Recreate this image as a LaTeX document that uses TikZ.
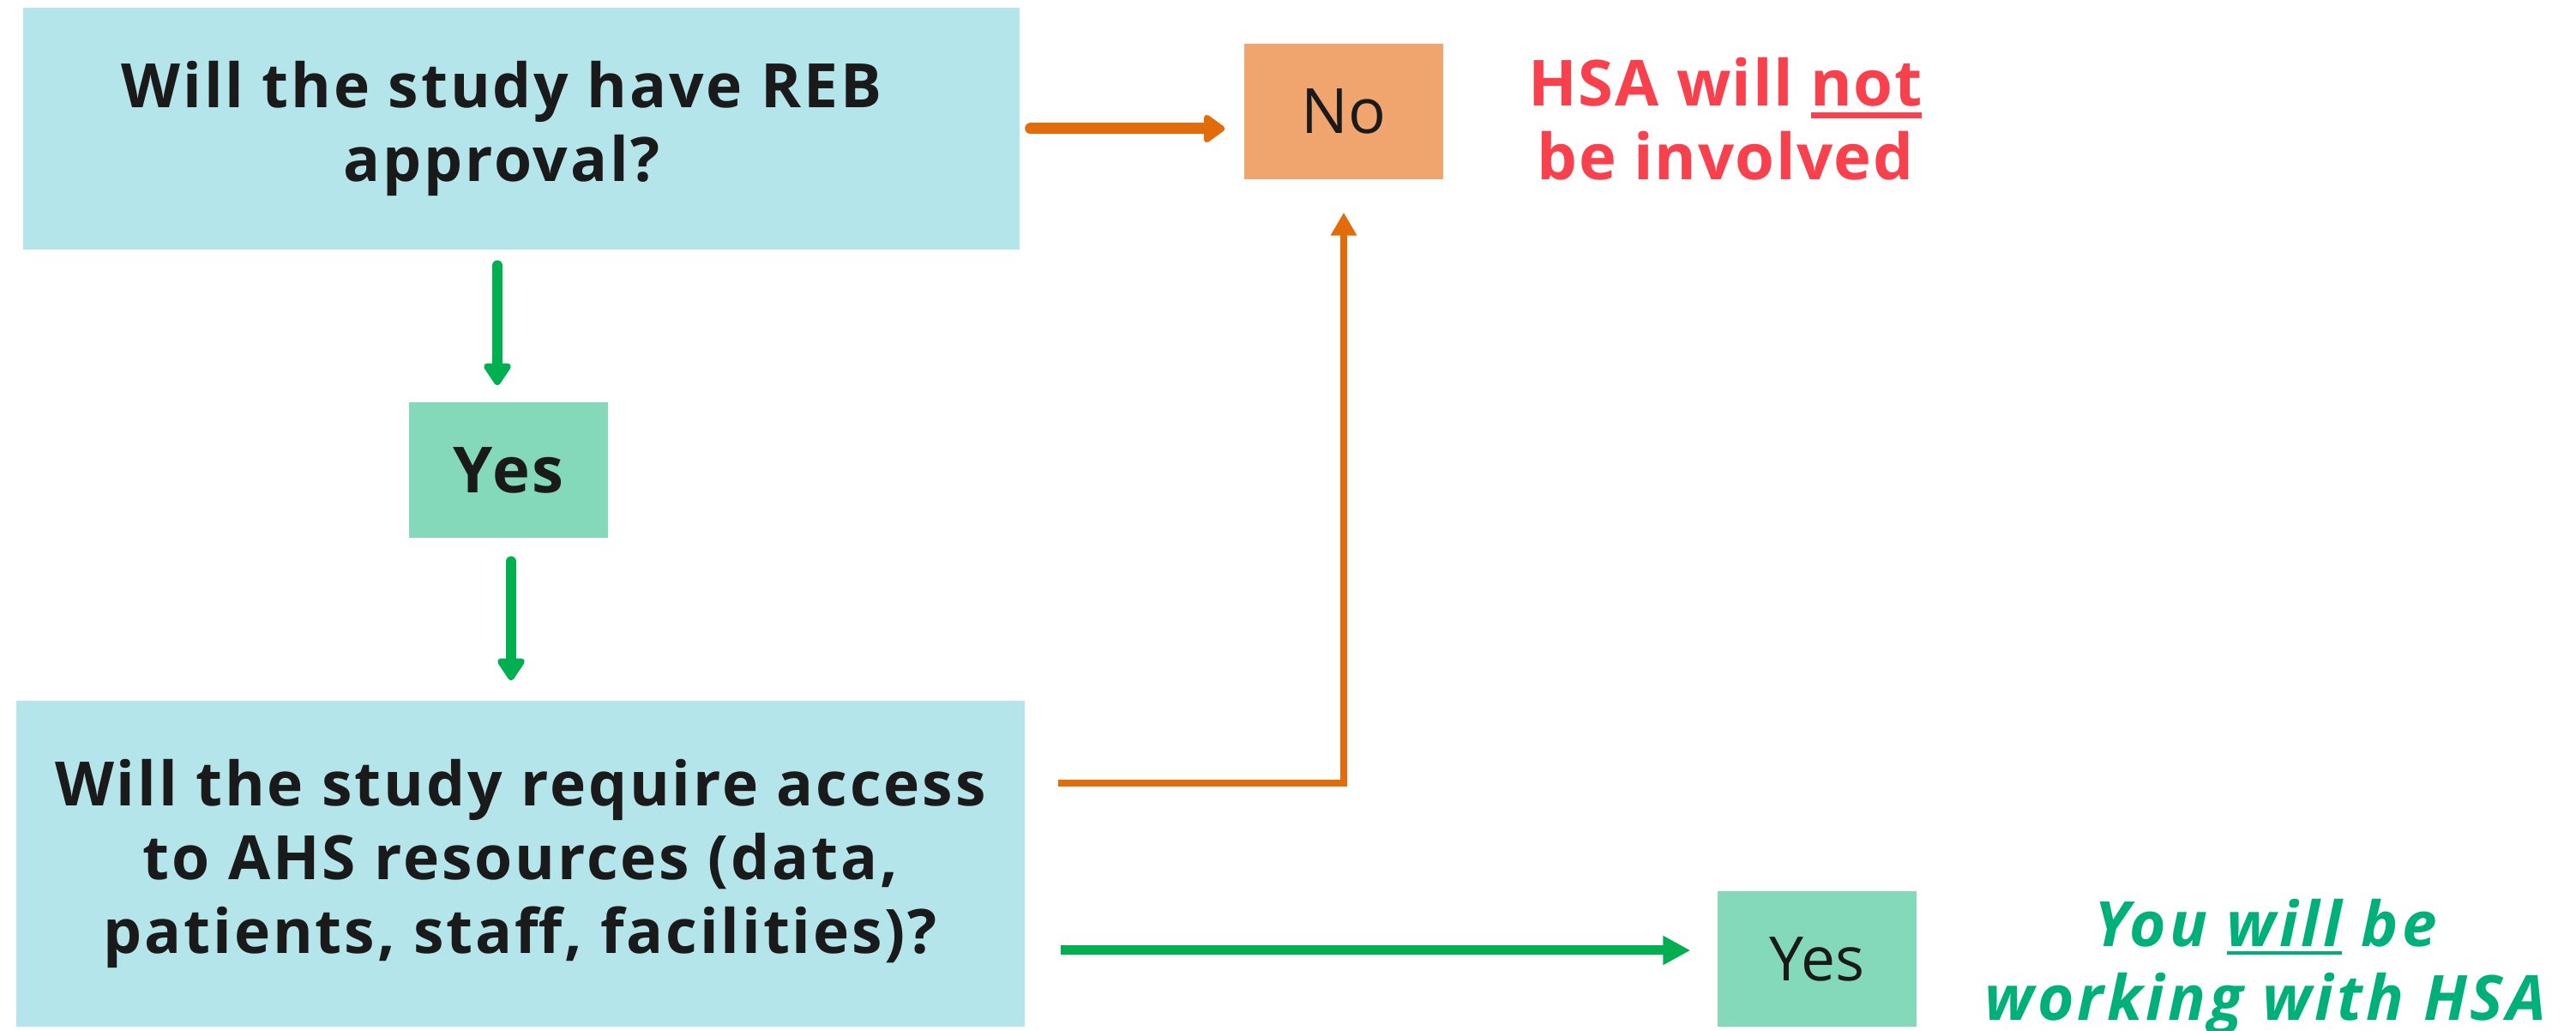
\documentclass[tikz,border=0pt]{standalone}
\usepackage{fontspec}
\setmainfont{Open Sans}
\newfontfamily\qfont{Open Sans}[LetterSpace=4]
\newfontfamily\redfont{Open Sans}[LetterSpace=2]
\newfontfamily\grnfont{Open Sans}[LetterSpace=5.5]
\usetikzlibrary{arrows.meta}
\definecolor{qblue}{HTML}{B3E5EA}
\definecolor{nobox}{HTML}{F0A56F}
\definecolor{yesbox}{HTML}{83D9BA}
\definecolor{oline}{HTML}{E36C0A}
\definecolor{gline}{HTML}{00B050}
\definecolor{redtxt}{HTML}{F9414E}
\definecolor{greentxt}{HTML}{00B07A}
\definecolor{ink}{HTML}{1A1A1A}
\newcommand{\thickul}[3]{\setbox0\hbox{#3}\rlap{\rule[-#1]{\wd0}{#2}}\box0\relax}
\begin{document}
\begin{tikzpicture}[
  box/.style={rectangle, inner sep=0pt, align=center, text=ink},
  qbox/.style={box, fill=qblue, font=\qfont\bfseries\fontsize{20.3}{24.5}\selectfont},
  nobx/.style={box, fill=nobox, minimum width=2.32cm, minimum height=1.58cm, font=\fontsize{20.7}{24.5}\selectfont},
  yesbx/.style={box, fill=yesbox, minimum width=2.32cm, minimum height=1.58cm},
  thickarrow/.style={line width=0.13cm, line cap=round, color=oline, -{Triangle[round,width=0.37cm,length=0.27cm]}},
  garrow/.style={line width=0.125cm, line cap=round, color=gline, -{Triangle[round,width=0.36cm,length=0.29cm]}},
  othin/.style={line width=0.075cm, color=oline, -{Triangle[width=0.29cm,length=0.27cm]}},
  gbottom/.style={line width=0.11cm, color=gline, -{Triangle[width=0.32cm,length=0.32cm]}},
  outcome/.style={align=center, inner sep=0pt}
]
\useasboundingbox (0,0) rectangle (30.04,-12.02);
\fill[white] (0,0) rectangle (30.04,-12.02);

\node[qbox, minimum width=11.62cm, minimum height=2.82cm] (q1) at (6.08,-1.50)
  {Will the study have REB\kern0.46cm\\approval?\kern0.46cm};
\node[nobx] (no) at (15.67,-1.30) {No};
\node[yesbx, font=\qfont\bfseries\fontsize{21.1}{24.5}\selectfont] (yes1) at (5.93,-5.48) {Yes};
\node[qbox, minimum width=11.76cm, minimum height=3.80cm] (q2) at (6.07,-10.07)
  {Will the study require access\\to AHS resources (data,\\patients, staff, facilities)?};
\node[yesbx, font=\fontsize{20.3}{24.5}\selectfont] (yes2) at (21.19,-11.18) {Yes};

\node[outcome, text=redtxt, font=\redfont\bfseries\fontsize{21.1}{24.5}\selectfont] (notinv) at (20.12,-1.385)
  {HSA will \thickul{0.145cm}{0.07cm}{not}\\be involved};
\node[outcome, text=greentxt, font=\grnfont\bfseries\itshape\fontsize{20.7}{24.5}\selectfont] (willwork) at (26.42,-11.28)
  {You \thickul{0.09cm}{0.04cm}{will} be\\working with HSA};

\draw[thickarrow, shorten <=0.12cm, shorten >=0.22cm] (q1.east) -- (q1.east -| no.west);
\draw[garrow, shorten <=0.18cm, shorten >=0.19cm] ([xshift=-0.28cm]q1.south) -- ([xshift=-0.28cm]q1.south |- yes1.north);
\draw[garrow, shorten <=0.27cm, shorten >=0.23cm] ([xshift=0.03cm]yes1.south) -- ([xshift=0.03cm]yes1.south |- q2.north);
\draw[othin, shorten <=0.38cm, shorten >=0.38cm] ([yshift=0.94cm]q2.east) -| (no.south);
\draw[gbottom, shorten <=0.41cm, shorten >=0.31cm] ([yshift=-1.01cm]q2.east) -- ([yshift=-1.01cm]q2.east -| yes2.west);
\end{tikzpicture}
\end{document}
